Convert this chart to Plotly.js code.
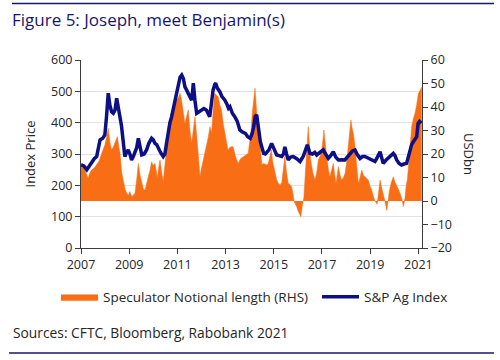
<!DOCTYPE html>
<html>
<head>
<meta charset="utf-8">
<script src="https://cdn.plot.ly/plotly-3.0.1.min.js"></script>
<style>html,body{margin:0;padding:0;background:#fff}#chart{width:500px;height:360px}</style>
</head>
<body>
<div id="chart"></div>
<script>
// S&P Ag Index (left axis, index price)
const spYears = [2007.00,2007.12,2007.24,2007.35,2007.44,2007.55,2007.65,2007.72,2007.79,2007.90,2007.99,2008.06,2008.13,2008.20,2008.27,2008.34,2008.41,2008.48,2008.55,2008.62,2008.68,2008.73,2008.82,2008.89,2008.96,2009.03,2009.10,2009.17,2009.24,2009.31,2009.38,2009.45,2009.52,2009.62,2009.72,2009.82,2009.93,2010.00,2010.07,2010.14,2010.20,2010.30,2010.41,2010.48,2010.55,2010.62,2010.69,2010.76,2010.83,2010.90,2010.97,2011.04,2011.11,2011.18,2011.25,2011.31,2011.38,2011.45,2011.52,2011.59,2011.63,2011.66,2011.73,2011.80,2011.90,2012.00,2012.10,2012.21,2012.28,2012.34,2012.41,2012.48,2012.55,2012.59,2012.66,2012.76,2012.85,2012.97,2013.05,2013.12,2013.18,2013.28,2013.38,2013.48,2013.59,2013.70,2013.82,2013.92,2014.02,2014.10,2014.16,2014.23,2014.29,2014.37,2014.44,2014.50,2014.58,2014.65,2014.72,2014.80,2014.91,2015.00,2015.12,2015.22,2015.33,2015.40,2015.46,2015.53,2015.60,2015.70,2015.81,2015.95,2016.09,2016.22,2016.32,2016.39,2016.45,2016.50,2016.60,2016.70,2016.78,2016.90,2017.05,2017.15,2017.26,2017.36,2017.47,2017.57,2017.68,2017.80,2017.95,2018.05,2018.16,2018.27,2018.37,2018.45,2018.58,2018.68,2018.78,2018.90,2018.99,2019.10,2019.20,2019.30,2019.41,2019.47,2019.54,2019.65,2019.75,2019.85,2019.96,2020.03,2020.10,2020.20,2020.30,2020.40,2020.51,2020.58,2020.65,2020.72,2020.79,2020.86,2020.93,2020.99,2021.05,2021.12];
const spValues = [265,262,250,262,276,285,292,318,345,350,361,420,494,455,435,430,440,478,450,419,390,355,292,305,313,300,281,292,307,320,350,320,297,300,313,335,350,345,334,330,318,305,292,300,334,370,400,419,445,478,505,531,545,552,540,515,505,494,480,472,500,526,470,430,435,440,445,440,430,419,460,504,522,526,510,499,483,472,460,446,451,430,419,405,377,370,366,355,350,365,385,420,425,370,340,323,302,300,305,313,334,315,297,295,292,300,323,300,281,290,292,285,276,292,310,329,315,302,300,305,297,305,313,300,286,295,307,290,281,282,281,290,302,310,313,300,286,292,292,288,286,280,276,290,307,290,270,280,286,295,302,295,281,270,265,268,270,290,313,330,339,345,355,398,404,398];

// Speculator notional length (right axis, USD bn)
const specYears = [2007.00,2007.05,2007.12,2007.20,2007.30,2007.37,2007.44,2007.55,2007.65,2007.75,2007.86,2007.93,2007.99,2008.06,2008.13,2008.20,2008.27,2008.34,2008.41,2008.48,2008.51,2008.57,2008.62,2008.69,2008.76,2008.83,2008.90,2008.97,2009.03,2009.10,2009.17,2009.24,2009.31,2009.38,2009.45,2009.52,2009.59,2009.66,2009.72,2009.79,2009.86,2009.93,2010.00,2010.07,2010.12,2010.17,2010.22,2010.28,2010.35,2010.41,2010.48,2010.55,2010.62,2010.69,2010.76,2010.83,2010.90,2010.97,2011.04,2011.11,2011.17,2011.22,2011.27,2011.31,2011.38,2011.45,2011.52,2011.59,2011.66,2011.73,2011.80,2011.86,2011.94,2012.00,2012.07,2012.14,2012.21,2012.28,2012.35,2012.42,2012.48,2012.55,2012.62,2012.69,2012.76,2012.83,2012.90,2012.97,2013.03,2013.10,2013.20,2013.31,2013.41,2013.52,2013.62,2013.73,2013.84,2013.94,2014.00,2014.06,2014.10,2014.16,2014.22,2014.29,2014.37,2014.42,2014.47,2014.51,2014.56,2014.65,2014.72,2014.77,2014.84,2014.90,2014.95,2015.05,2015.12,2015.19,2015.27,2015.33,2015.40,2015.46,2015.53,2015.60,2015.67,2015.74,2015.80,2015.84,2015.90,2015.95,2016.00,2016.06,2016.12,2016.18,2016.25,2016.31,2016.36,2016.43,2016.48,2016.53,2016.62,2016.71,2016.78,2016.85,2016.92,2016.99,2017.04,2017.08,2017.14,2017.20,2017.27,2017.33,2017.40,2017.47,2017.53,2017.58,2017.63,2017.68,2017.75,2017.82,2017.89,2017.96,2018.03,2018.10,2018.15,2018.20,2018.25,2018.30,2018.36,2018.41,2018.46,2018.51,2018.58,2018.65,2018.72,2018.78,2018.85,2018.92,2018.99,2019.06,2019.13,2019.20,2019.29,2019.35,2019.41,2019.47,2019.54,2019.61,2019.69,2019.75,2019.80,2019.88,2019.96,2020.03,2020.10,2020.17,2020.24,2020.31,2020.38,2020.44,2020.49,2020.54,2020.58,2020.65,2020.72,2020.79,2020.86,2020.93,2021.00,2021.07,2021.14];
const specValues = [14,16,14,12,9.7,12,13.2,14,15.3,17,20.3,22,23.8,27,30.9,25,21.7,23,24.6,26,27.4,23,20.3,12,7.5,5,3.3,2.5,4,1.8,2.5,3.3,9,16,11,7.5,5,4.7,8,10.3,13,16.7,15,16,13,9.7,14,17.4,12,8.2,15,23.1,29,34.5,36,37.3,40,43,44,45.8,43,40.1,36,33,36,38.7,30,24.6,30,35.9,28,20.3,10.3,14,17.4,20,23.1,27,31.6,28.8,38,45.8,45,44.4,41,38.7,33,28.8,25,21.7,23,23.1,19,16,18,18.9,19.5,20.3,25.2,30,36.6,42,48,38,29.5,24.6,19,15.3,16,15.5,15.3,16,19,21.7,17,12,9,7.5,6.8,7.9,13,18.9,12,7.5,7,6.1,3,0,-1.5,-2.4,-4,-5.2,-6.7,-2.4,1.8,12,21.7,31.6,24,17.4,12,8.9,12,17.4,19,21.7,26,30.2,24,17.4,13,10.3,13,16,11,7.5,11,14.6,11,8.9,10,11.8,17,24.6,30,34.5,31,28.8,24,17.4,12,7.5,10,13.2,11,10.3,9.5,8.9,6.5,4.7,2,0,-1.4,4,8.9,6,3.3,0,-4,0.5,4.7,8,10.3,8,6.1,5,3.3,1,-2.4,1,6.1,9,13.2,22,31.6,35,37.3,41,45.8,47,48.6];

const xTickStart = 2007, xTickStep = 2;
const leftTicks = [0, 100, 200, 300, 400, 500, 600];
const rightTicks = [-20, -10, 0, 10, 20, 30, 40, 50, 60];

const W = 500, H = 360;
const M = {l: 81, r: 78, t: 60, b: 112};
const pw = W - M.l - M.r, ph = H - M.t - M.b;
const px = v => (v - M.l) / pw;          // pixel x -> paper x
const py = v => (H - M.b - v) / ph;       // pixel y -> paper y

const FONT = '"Open Sans", "Noto Sans", sans-serif';
const NAVY = '#0c0f85';
const ORANGE = '#f96d14';
const TXT = '#262626';
const AX = '#3c3c3c';

const traces = [
  {
    type: 'scatter', mode: 'lines', name: 'Speculator Notional length (RHS)',
    x: specYears, y: specValues, yaxis: 'y', legend: 'legend',
    fill: 'tozeroy', fillcolor: ORANGE, line: {color: ORANGE, width: 0.5, shape: 'linear'},
    hoverinfo: 'skip'
  },
  {
    type: 'scatter', mode: 'lines', name: 'S&P Ag Index',
    x: spYears, y: spValues, yaxis: 'y2', legend: 'legend2',
    line: {color: NAVY, width: 3.5}, hoverinfo: 'skip'
  }
];

const legendBase = {
  orientation: 'h', xanchor: 'left', yanchor: 'middle', y: py(297),
  font: {size: 13.5, color: TXT}, itemwidth: 37,
  bgcolor: 'rgba(0,0,0,0)', borderwidth: 0
};

const layout = {
  width: W, height: H,
  margin: M,
  paper_bgcolor: '#ffffff', plot_bgcolor: 'rgba(0,0,0,0)',
  font: {family: FONT, size: 12, color: TXT},
  showlegend: true,
  title: {
    text: 'Figure 5: Joseph, meet Benjamin(s)',
    font: {family: FONT, size: 17, color: '#17176a'},
    xref: 'container', yref: 'container', x: 12 / W, xanchor: 'left',
    y: 1 - 20 / H, yanchor: 'middle'
  },
  xaxis: {
    range: [2007, 2021.15], tickmode: 'linear', tick0: xTickStart, dtick: xTickStep,
    showgrid: false, zeroline: false, showline: true, linecolor: AX, linewidth: 1,
    ticks: 'outside', ticklen: 5, tickcolor: AX, tickfont: {size: 12.5, color: TXT}
  },
  yaxis: {
    side: 'right', range: [-20, 60], tickmode: 'array', tickvals: rightTicks,
    showgrid: false, zeroline: false, showline: true, linecolor: AX, linewidth: 1,
    ticks: 'outside', ticklen: 5, tickcolor: AX, tickfont: {size: 12.5, color: TXT}
  },
  yaxis2: {
    side: 'left', overlaying: 'y', range: [0, 600], tickmode: 'array', tickvals: leftTicks,
    showgrid: true, gridcolor: '#e2e2e2', gridwidth: 1, zeroline: false,
    showline: true, linecolor: AX, linewidth: 1,
    ticks: 'outside', ticklen: 5, tickcolor: AX, tickfont: {size: 12.5, color: TXT},
    title: {text: 'Index Price', font: {size: 13, color: TXT}, standoff: 12}
  },
  legend: Object.assign({}, legendBase, {x: px(56)}),
  legend2: Object.assign({}, legendBase, {x: px(317)}),
  annotations: [
    {text: 'USDbn', xref: 'paper', yref: 'paper', x: px(469), y: py(154),
     xanchor: 'center', yanchor: 'middle', textangle: 90, showarrow: false,
     font: {size: 13, color: TXT}},
    {text: 'Sources: CFTC, Bloomberg, Rabobank 2021', xref: 'paper', yref: 'paper',
     x: px(11), y: py(332), xanchor: 'left', yanchor: 'middle', showarrow: false,
     font: {size: 13.8, color: TXT}}
  ],
  shapes: [
    {type: 'line', xref: 'paper', yref: 'paper', x0: px(12), x1: px(494), y0: py(3.5), y1: py(3.5),
     line: {color: '#17176a', width: 1.5}},
    {type: 'line', xref: 'paper', yref: 'paper', x0: px(9), x1: px(494), y0: py(353), y1: py(353),
     line: {color: '#17176a', width: 1.5}}
  ]
};

Plotly.newPlot('chart', traces, layout, {staticPlot: true, displayModeBar: false});
</script>
</body>
</html>
